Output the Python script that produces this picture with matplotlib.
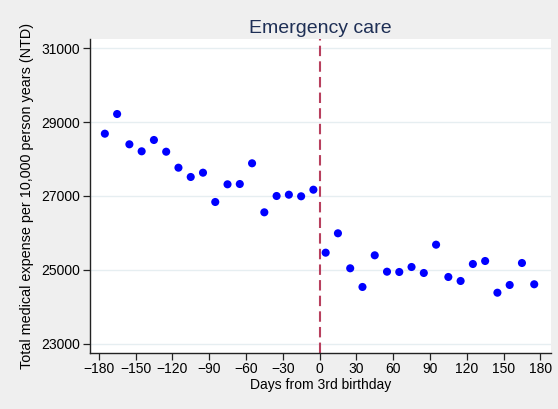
import matplotlib
matplotlib.use("Agg")
import matplotlib.pyplot as plt
import numpy as np

plt.rcParams['font.family'] = ['Liberation Sans', 'DejaVu Sans']

# days from 3rd birthday (bin centres) and expense values
days_before = [-175, -165, -155, -145, -135, -125, -115, -105, -95,
               -85, -75, -65, -55, -45, -35, -25, -15, -5]
expense_before = [28684, 29216, 28397, 28208, 28514, 28197, 27765, 27514, 27630,
                  26838, 27316, 27324, 27884, 26559, 27000, 27035, 26992, 27170]

days_after = [5, 15, 25, 35, 45, 55, 65, 75, 85,
              95, 105, 115, 125, 135, 145, 155, 165, 175]
expense_after = [25468, 25992, 25046, 24541, 25397, 24954, 24946, 25081, 24919,
                 25684, 24811, 24703, 25162, 25243, 24386, 24595, 25189, 24614]

xticks = list(range(-180, 181, 30))
yticks = [23000, 25000, 27000, 29000, 31000]

bg = '#efefef'
fig = plt.figure(figsize=(5.58, 4.09), dpi=100, facecolor=bg)
ax = fig.add_axes([0.1613, 0.1377, 0.9875 - 0.1613, 0.9046 - 0.1377])
ax.set_facecolor('white')

# grid
for yv in yticks:
    ax.axhline(yv, color='#e6eef1', lw=1.0, zorder=0)

ax.scatter(days_before, expense_before, s=34, color='#0000ff', edgecolors='none', zorder=3)
ax.scatter(days_after, expense_after, s=34, color='#0000ff', edgecolors='none', zorder=3)

ax.axvline(0, color='#b8405e', lw=1.5, linestyle=(0, (5, 2.5)), zorder=2)

ax.set_xlim(-187.1, 188.7)
ax.set_ylim(22765, 31243)
ax.set_xticks(xticks)
ax.set_xticklabels([str(v).replace('-', '\u2212') for v in xticks])
ax.set_yticks(yticks)
ax.set_yticklabels([str(v) for v in yticks])

for s in ['top', 'right']:
    ax.spines[s].set_visible(False)
for s in ['left', 'bottom']:
    ax.spines[s].set_color('#222222')
    ax.spines[s].set_linewidth(1.0)
ax.tick_params(direction='out', length=5, width=0.9, color='#222222',
               labelsize=10, labelcolor='black', pad=2)

ax.set_xlabel('Days from 3rd birthday', fontsize=10, labelpad=1)
ax.set_ylabel('Total medical expense per 10,000 person years (NTD)', fontsize=10.4, labelpad=5)
ax.set_title('Emergency care', fontsize=14, color='#1e2f55', pad=4)

fig.savefig('out.png', dpi=100, facecolor=bg)
